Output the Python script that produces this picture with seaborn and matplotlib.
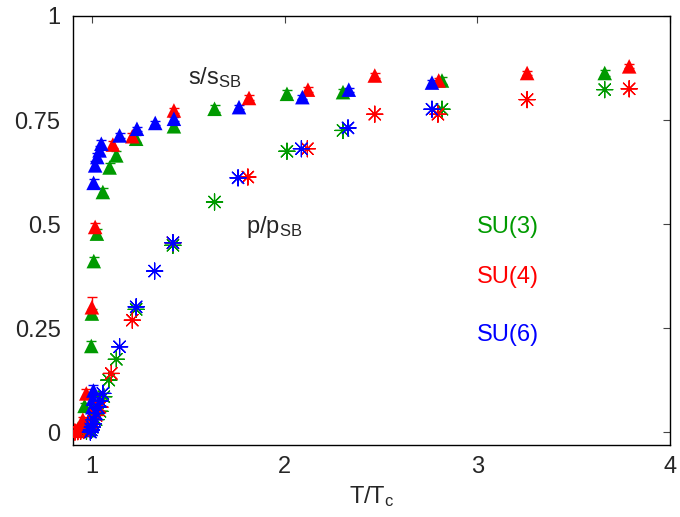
import numpy as np
import pandas as pd
import matplotlib
matplotlib.use("Agg")
import matplotlib.pyplot as plt
import seaborn as sns

# Entropy density s/s_SB (filled triangles, with errors) and pressure p/p_SB (stars)
# versus T/T_c for SU(3), SU(4) and SU(6) gauge theories.

su3_s_T = [0.93, 0.945, 0.96, 0.995, 0.998, 1.008, 1.024, 1.055, 1.09, 1.125, 1.228, 1.424,
           1.635, 2.011, 2.302, 2.816, 3.661]
su3_s = [0.005, 0.02, 0.063, 0.207, 0.285, 0.411, 0.477, 0.577, 0.636, 0.665, 0.705, 0.735,
         0.777, 0.813, 0.817, 0.845, 0.863]
su3_s_err = [0.004, 0.005, 0.008, 0.012, 0.012, 0.01, 0.01, 0.01, 0.01, 0.01, 0.008, 0.008,
             0.008, 0.008, 0.008, 0.008, 0.008]

su4_s_T = [0.92, 0.94, 0.951, 0.969, 0.998, 1.015, 1.107, 1.208, 1.424, 1.814, 2.12, 2.467,
           2.799, 3.258, 3.788]
su4_s = [0.003, 0.015, 0.03, 0.093, 0.30, 0.493, 0.691, 0.711, 0.773, 0.803, 0.823, 0.857,
         0.845, 0.863, 0.879]
su4_s_err = [0.003, 0.005, 0.006, 0.01, 0.024, 0.01, 0.008, 0.008, 0.006, 0.006, 0.006, 0.005,
             0.005, 0.005, 0.005]

su6_s_T = [0.98, 0.99, 0.995, 1.0, 1.003, 1.006, 1.007, 1.015, 1.026, 1.038, 1.047, 1.142,
           1.232, 1.327, 1.424, 1.762, 2.091, 2.332, 2.764]
su6_s = [0.005, 0.02, 0.04, 0.06, 0.08, 0.10, 0.599, 0.641, 0.661, 0.677, 0.693, 0.713,
         0.729, 0.743, 0.753, 0.781, 0.805, 0.823, 0.840]
su6_s_err = [0.004, 0.005, 0.006, 0.008, 0.01, 0.012, 0.01, 0.01, 0.01, 0.01, 0.01, 0.006,
             0.005, 0.005, 0.005, 0.005, 0.005, 0.005, 0.005]

su3_p_T = [0.97, 0.99, 1.0, 1.02, 1.04, 1.06, 1.086, 1.125, 1.228, 1.419, 1.635, 2.011,
           2.302, 2.816, 3.661]
su3_p = [0.002, 0.006, 0.012, 0.03, 0.05, 0.085, 0.125, 0.175, 0.295, 0.449, 0.553, 0.675,
         0.725, 0.776, 0.823]

su4_p_T = [0.91, 0.925, 0.94, 0.955, 0.97, 0.985, 1.0, 1.02, 1.04, 1.099, 1.208, 1.419,
           1.808, 2.117, 2.467, 2.795, 3.258, 3.788]
su4_p = [0.0, 0.001, 0.002, 0.004, 0.008, 0.015, 0.02, 0.04, 0.06, 0.141, 0.269, 0.455,
         0.613, 0.681, 0.764, 0.764, 0.799, 0.825]

su6_p_T = [0.99, 0.995, 1.0, 1.005, 1.01, 1.02, 1.03, 1.04, 1.055, 1.142, 1.228, 1.324,
           1.419, 1.757, 2.086, 2.328, 2.764]
su6_p = [0.0, 0.005, 0.012, 0.02, 0.03, 0.045, 0.06, 0.075, 0.093, 0.205, 0.301, 0.387,
         0.455, 0.611, 0.681, 0.731, 0.776]

groups = ["SU(3)", "SU(4)", "SU(6)"]
colors = {"SU(3)": "#009a00", "SU(4)": "#ff0000", "SU(6)": "#0000ff"}

x_ticks = [1, 2, 3, 4]
x_tick_labels = ["1", "2", "3", "4"]
y_ticks = [0, 0.25, 0.5, 0.75, 1]
y_tick_labels = ["0", "0.25", "0.5", "0.75", "1"]

entropy = pd.concat([
    pd.DataFrame({"T": su3_s_T, "val": su3_s, "err": su3_s_err, "group": "SU(3)"}),
    pd.DataFrame({"T": su4_s_T, "val": su4_s, "err": su4_s_err, "group": "SU(4)"}),
    pd.DataFrame({"T": su6_s_T, "val": su6_s, "err": su6_s_err, "group": "SU(6)"}),
], ignore_index=True)
pressure = pd.concat([
    pd.DataFrame({"T": su3_p_T, "val": su3_p, "group": "SU(3)"}),
    pd.DataFrame({"T": su4_p_T, "val": su4_p, "group": "SU(4)"}),
    pd.DataFrame({"T": su6_p_T, "val": su6_p, "group": "SU(6)"}),
], ignore_index=True)

sns.set_theme(style="white")
plt.rcParams["font.family"] = ["Liberation Sans", "DejaVu Sans"]
plt.rcParams["mathtext.fontset"] = "custom"
plt.rcParams["mathtext.rm"] = "Liberation Sans"
plt.rcParams["mathtext.it"] = "Liberation Sans"

fig = plt.figure(figsize=(6.8, 5.17), dpi=100)
ax = fig.add_axes([73 / 680, 1 - 445 / 517, (670 - 73) / 680, (445 - 16) / 517])

# error bars first, then the markers on top
for g in groups:
    d = entropy[entropy["group"] == g]
    ax.errorbar(d["T"], d["val"], yerr=d["err"], fmt="none", ecolor=colors[g],
                elinewidth=1.0, capsize=3.5, capthick=1.0, zorder=2)

sns.scatterplot(data=entropy, x="T", y="val", hue="group", palette=colors,
                marker="^", s=110, linewidth=0, legend=False, ax=ax, zorder=3)
sns.scatterplot(data=pressure, x="T", y="val", hue="group", palette=colors,
                marker=(8, 2, 0), s=135, linewidth=0.9, legend=False, ax=ax, zorder=3)

ax.set_xlim(0.9, 4.0)
ax.set_ylim(-0.031, 1.0)
ax.set_xticks(x_ticks)
ax.set_xticklabels(x_tick_labels)
ax.set_yticks(y_ticks)
ax.set_yticklabels(y_tick_labels)
ax.tick_params(direction="in", length=5, width=0.8, color="#444444", labelsize=17,
               top=True, right=True, pad=9)
ax.tick_params(axis="x", pad=8)
for sp in ax.spines.values():
    sp.set_color("black")
    sp.set_linewidth(1.0)

ax.set_xlabel(r"$\mathregular{T/T_c}$", fontsize=17, labelpad=4)
ax.set_ylabel("")

ax.text(1.497, 0.836, r"$\mathregular{s/s_{SB}}$", fontsize=17, ha="left", va="baseline")
ax.text(1.80, 0.478, r"$\mathregular{p/p_{SB}}$", fontsize=17, ha="left", va="baseline")

label_y = [0.478, 0.358, 0.218]
for g, yv in zip(groups, label_y):
    ax.text(2.998, yv, g, color=colors[g], fontsize=17, ha="left", va="baseline")

fig.savefig("out.png", dpi=100)
